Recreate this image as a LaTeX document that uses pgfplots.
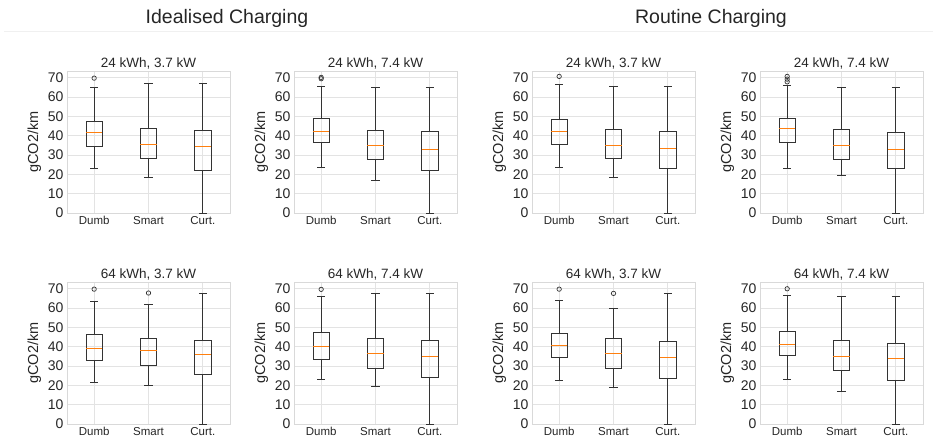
\documentclass[border=0pt]{standalone}
\usepackage{pgfplots}
\pgfplotsset{compat=1.18}
\usepgfplotslibrary{statistics}
\usepackage{fontspec}
\setmainfont{Liberation Sans}
\definecolor{labc}{HTML}{262626}
\definecolor{gridc}{HTML}{E3E3E3}
\definecolor{framec}{HTML}{D9D9D9}
\definecolor{medc}{HTML}{FF7F0E}
\definecolor{boxc}{HTML}{333333}
\pgfplotsset{
  panel/.style={
    scale only axis, width=163pt, height=142pt,
    anchor=south west,
    xmin=0.5, xmax=3.5, ymin=0, ymax=73.5,
    xtick={1,2,3}, xticklabels={Dumb,Smart,Curt.},
    ytick={0,10,...,70},
    grid=major, major grid style={draw=gridc, line width=0.8pt},
    axis line style={draw=framec, line width=0.8pt},
    major tick length=0pt, tick style={draw=none},
    /pgf/number format/assume math mode=true,
    xticklabel style={font=\fontsize{11.5}{12}\selectfont, text=labc},
    yticklabel style={font=\fontsize{14}{15}\selectfont, text=labc},
    ylabel={gCO2/km},
    ylabel style={font=\fontsize{14.5}{15}\selectfont, text=labc},
    every axis title shift=0pt,
    title style={font=\fontsize{13.5}{14}\selectfont, text=labc,
      at={(0.5,1)}, anchor=base, yshift=3.5pt, inner sep=0pt},
    boxplot/draw direction=y,
    boxplot/box extend=0.3,
    boxplot/whisker extend=0.15,
    boxplot/every median/.style={draw=medc, line width=1pt},
  },
  bstyle/.style={draw=boxc, line width=0.9pt, mark=o, mark size=2.2pt,
    mark options={draw=boxc, line width=0.7pt, fill=none}},
}
% draw position, lower whisker, Q1, median, Q3, upper whisker
\newcommand{\bp}[6]{\addplot[bstyle, boxplot prepared={draw position=#1,
  lower whisker=#2, lower quartile=#3, median=#4, upper quartile=#5,
  upper whisker=#6}] coordinates {};}
\newcommand{\bpo}[7]{\addplot[bstyle, boxplot prepared={draw position=#1,
  lower whisker=#2, lower quartile=#3, median=#4, upper quartile=#5,
  upper whisker=#6}] table[row sep=\\, y index=0] {data\\ #7\\};}
\begin{document}
\begin{tikzpicture}
\path[use as bounding box] (0pt,0pt) rectangle (933pt,440pt);
\node[font=\fontsize{19.5}{21}\selectfont, text=labc] at (227pt,422pt) {Idealised Charging};
\node[font=\fontsize{19.5}{21}\selectfont, text=labc] at (711pt,422pt) {Routine Charging};
\draw[draw=black!6, line width=1pt] (4pt,408.5pt) -- (933pt,408.5pt);
% ---- top row ----
\begin{axis}[panel, at={(67pt,227pt)}, title={24 kWh, 3.7 kW}]
\bpo{1}{23.2}{34.6}{41.5}{47.5}{65.0}{69.8}
\bp{2}{18.5}{28.0}{35.5}{43.7}{66.9}
\bp{3}{0}{22.1}{34.5}{42.7}{66.9}
\end{axis}
\begin{axis}[panel, at={(294pt,227pt)}, title={24 kWh, 7.4 kW}]
\bpo{1}{23.5}{36.5}{42.3}{48.7}{65.7}{69.5\\ 70.2}
\bp{2}{17.1}{27.7}{34.7}{42.9}{65.2}
\bp{3}{0}{21.8}{33.0}{42.0}{65.2}
\end{axis}
\begin{axis}[panel, at={(532pt,227pt)}, title={24 kWh, 3.7 kW}]
\bpo{1}{23.6}{35.4}{42.0}{48.3}{66.7}{70.7}
\bp{2}{18.2}{28.3}{34.9}{43.1}{65.7}
\bp{3}{0}{22.9}{33.5}{42.0}{65.7}
\end{axis}
\begin{axis}[panel, at={(760pt,227pt)}, title={24 kWh, 7.4 kW}]
\bpo{1}{23.3}{36.7}{43.5}{48.8}{66.0}{67.9\\ 69.3\\ 70.7}
\bp{2}{19.2}{27.9}{34.7}{43.0}{65.1}
\bp{3}{0}{23.2}{33.1}{41.6}{65.1}
\end{axis}
% ---- bottom row ----
\begin{axis}[panel, at={(67pt,16pt)}, title={64 kWh, 3.7 kW}]
\bpo{1}{21.6}{33.1}{39.3}{46.2}{63.4}{69.8}
\bpo{2}{19.8}{30.5}{37.9}{44.5}{61.9}{67.8}
\bp{3}{0}{25.7}{36.2}{43.4}{67.8}
\end{axis}
\begin{axis}[panel, at={(294pt,16pt)}, title={64 kWh, 7.4 kW}]
\bpo{1}{23.2}{33.2}{39.9}{47.3}{66.0}{69.7}
\bp{2}{19.6}{28.7}{36.3}{44.2}{67.8}
\bp{3}{0}{24.1}{34.7}{43.5}{67.8}
\end{axis}
\begin{axis}[panel, at={(532pt,16pt)}, title={64 kWh, 3.7 kW}]
\bpo{1}{22.5}{34.4}{40.6}{46.7}{63.9}{69.8}
\bpo{2}{18.8}{28.5}{36.5}{44.1}{60.0}{67.6}
\bp{3}{0}{23.7}{34.4}{42.9}{67.6}
\end{axis}
\begin{axis}[panel, at={(760pt,16pt)}, title={64 kWh, 7.4 kW}]
\bpo{1}{23.2}{35.3}{41.3}{48.0}{66.7}{70.0}
\bp{2}{17.1}{27.7}{35.1}{43.2}{65.8}
\bp{3}{0}{22.8}{33.9}{41.8}{65.8}
\end{axis}
\end{tikzpicture}
\end{document}
